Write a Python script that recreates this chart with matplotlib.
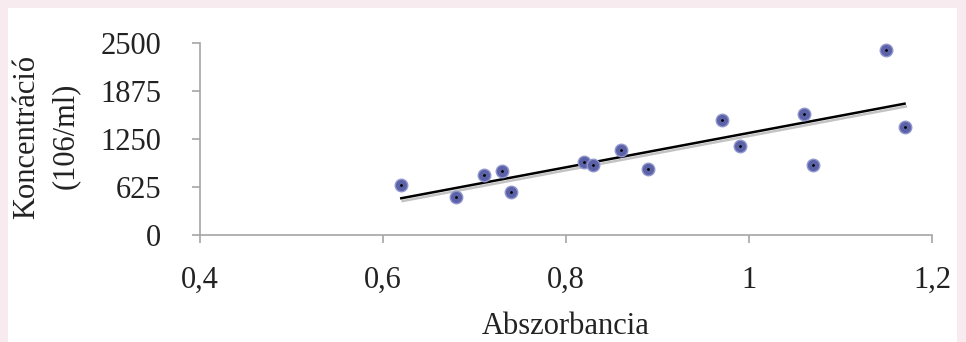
import numpy as np
import matplotlib
matplotlib.use("Agg")
import matplotlib.pyplot as plt
import matplotlib.patheffects as pe
from matplotlib.patches import Rectangle

# absorbance vs concentration
absorbancia = [0.62, 0.68, 0.71, 0.73, 0.74, 0.82, 0.83, 0.86, 0.89,
               0.97, 0.99, 1.06, 1.07, 1.15, 1.17]
koncentracio = [650, 500, 780, 830, 555, 945, 910, 1110, 860,
                1495, 1165, 1575, 915, 2410, 1410]
yticks = [0, 625, 1250, 1875, 2500]
xticks = [0.4, 0.6, 0.8, 1.0, 1.2]
xticklabels = ["0,4", "0,6", "0,8", "1", "1,2"]

plt.rcParams['font.family'] = ['Liberation Serif', 'DejaVu Serif']

W, H = 966, 342
fig = plt.figure(figsize=(W/100, H/100), dpi=100)
fig.patch.set_facecolor('#f8ebf0')
fig.patches.append(Rectangle((8/W, 0), (957-8)/W, (H-8)/H, transform=fig.transFigure,
                             facecolor='white', edgecolor='none', zorder=-10))

ax = fig.add_axes([200/W, 1-235/H, (932-200)/W, (235-43)/H])
ax.set_zorder(5)
ax.set_facecolor('none')

x = np.array(absorbancia)
y = np.array(koncentracio)

# linear trendline
k, b = np.polyfit(x, y, 1)
xl = np.array([x.min(), x.max()])
ax.plot(xl, k*xl + b, color='black', lw=1.8, zorder=2,
        path_effects=[pe.SimpleLineShadow(offset=(1, -2), shadow_color='#888888', alpha=0.5),
                      pe.Normal()])

ax.plot(x, y, 'o', ms=9, color='#5c62a8', mec='#9096cc', mew=1.0, zorder=3)
ax.plot(x, y, '.', ms=2, color='black', zorder=4)

ax.set_xlim(0.4, 1.2)
ax.set_ylim(0, 2500)
ax.set_xticks(xticks)
ax.set_xticklabels(xticklabels)
ax.set_yticks(yticks)

for s in ['top', 'right']:
    ax.spines[s].set_visible(False)
for s in ['left', 'bottom']:
    ax.spines[s].set_color('#a6a6a6')
    ax.spines[s].set_linewidth(1.2)

ax.tick_params(axis='both', direction='out', length=6, width=1.2, color='#a6a6a6',
               labelsize=22, labelcolor='#222222')
ax.tick_params(axis='y', pad=22)
ax.tick_params(axis='x', pad=16)

fig.text((200+932)/2/W, 1-326/H, 'Abszorbancia', ha='center', va='center',
         fontsize=22, color='#222222')
fig.text(27/W, 1-137/H, 'Koncentráció', rotation=90, ha='center', va='center',
         fontsize=22, color='#222222')
fig.text(65/W, 1-136/H, '(106/ml)', rotation=90, ha='center', va='center',
         fontsize=22, color='#222222')

fig.savefig('out.png', dpi=100, facecolor=fig.get_facecolor())
